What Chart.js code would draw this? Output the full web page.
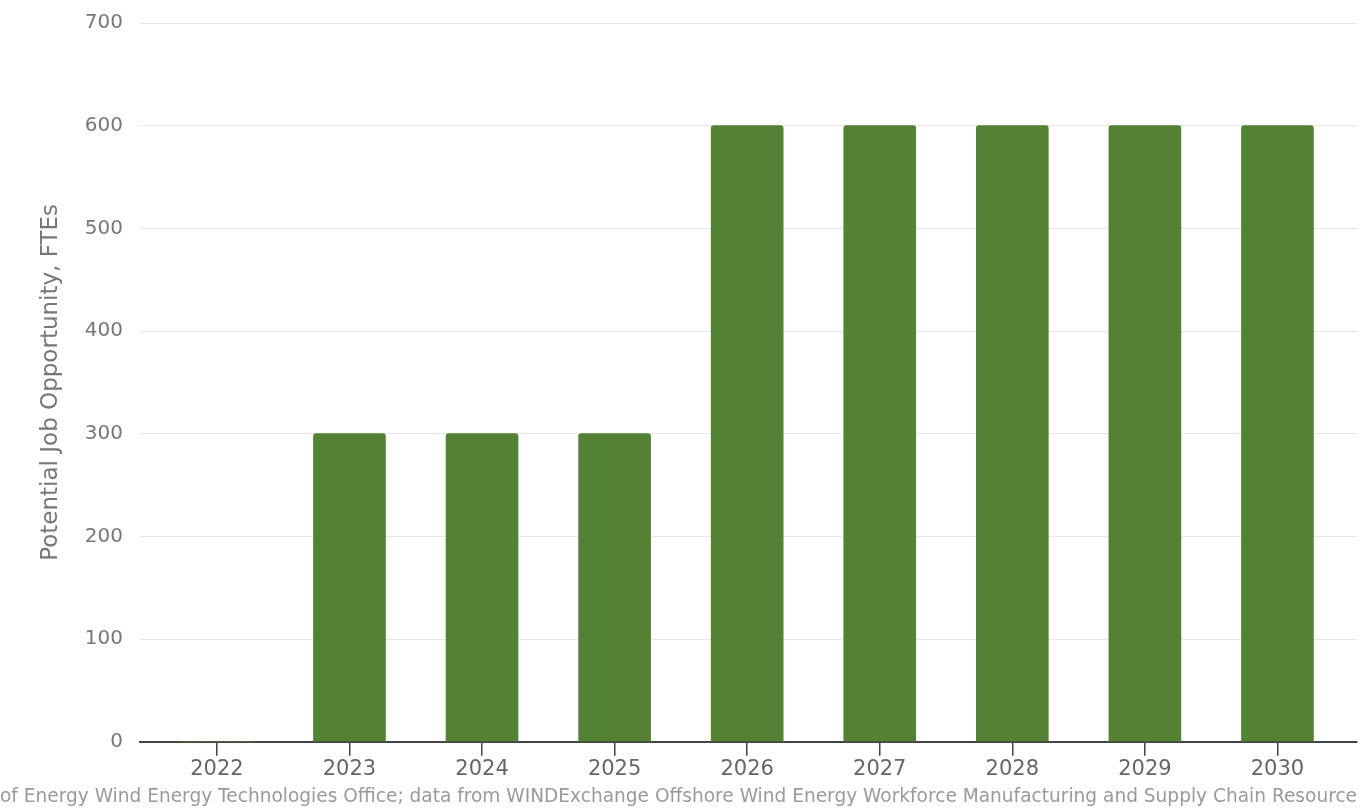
<!DOCTYPE html>
<html>
<head>
<meta charset="utf-8">
<script src="https://cdn.jsdelivr.net/npm/chart.js@4/dist/chart.umd.min.js"></script>
<style>
  html, body { margin: 0; padding: 0; background: #fff; }
  #wrap { width: 1370px; height: 809px; }
</style>
</head>
<body>
<div id="wrap"><canvas id="jobsChart" width="1370" height="809"></canvas></div>
<script>
// Offshore wind job opportunity by year
const years = ['2022', '2023', '2024', '2025', '2026', '2027', '2028', '2029', '2030'];
const jobs = [0, 300, 300, 300, 600, 600, 600, 600, 600];
const yTicks = [0, 100, 200, 300, 400, 500, 600, 700];
const yTitle = 'Potential Job Opportunity, FTEs';
const sourceNote = 'of Energy Wind Energy Technologies Office; data from WINDExchange Offshore Wind Energy Workforce Manufacturing and Supply Chain Resource';

const FONT = "'DejaVu Sans', sans-serif";

document.addEventListener('DOMContentLoaded', function() {
    const ctx = document.getElementById('jobsChart').getContext('2d');
    new Chart(ctx, {
        type: 'bar',
        data: {
            datasets: [{
                data: years.map((y, i) => ({ x: i, y: jobs[i] })),
                backgroundColor: '#548235',
                borderWidth: 0,
                borderRadius: 3,
                barThickness: 72
            }]
        },
        options: {
            responsive: false,
            animation: false,
            layout: { padding: { top: 23, right: 13, bottom: 0, left: 0 } },
            plugins: {
                legend: { display: false },
                tooltip: { enabled: false },
                title: {
                    display: true,
                    position: 'bottom',
                    text: sourceNote,
                    color: '#9a9a9a',
                    font: { family: FONT, size: 18.6, weight: 'normal' },
                    padding: { top: 4, bottom: 1 }
                }
            },
            scales: {
                x: {
                    type: 'linear',
                    offset: false,
                    min: -0.58,
                    max: 8.6,
                    afterBuildTicks: scale => {
                        scale.ticks = years.map((_, i) => ({ value: i }));
                    },
                    afterFit: scale => { scale.height = 40; },
                    ticks: {
                        callback: v => years[v],
                        color: '#666',
                        font: { family: FONT, size: 21 },
                        padding: 1,
                        maxRotation: 0,
                        autoSkip: false
                    },
                    grid: {
                        offset: false,
                        drawOnChartArea: false,
                        drawTicks: true,
                        tickLength: 14,
                        color: '#444',
                        lineWidth: 1.5
                    },
                    border: { color: '#444', width: 2 }
                },
                y: {
                    min: 0,
                    max: 700,
                    afterBuildTicks: scale => {
                        scale.ticks = yTicks.map(v => ({ value: v }));
                    },
                    afterFit: scale => {
                        scale.width = 140;
                        // let the top gridline sit right at the layout padding
                        scale.paddingTop = 0;
                    },
                    ticks: {
                        color: '#777',
                        font: { family: FONT, size: 20 },
                        padding: 17
                    },
                    grid: {
                        color: '#e6e6e6',
                        lineWidth: 1,
                        drawTicks: false
                    },
                    border: { display: false },
                    title: {
                        display: true,
                        text: yTitle,
                        color: '#777',
                        font: { family: FONT, size: 23 },
                        padding: { top: 37, bottom: 0 }
                    }
                }
            }
        }
    });
});
</script>
</body>
</html>
